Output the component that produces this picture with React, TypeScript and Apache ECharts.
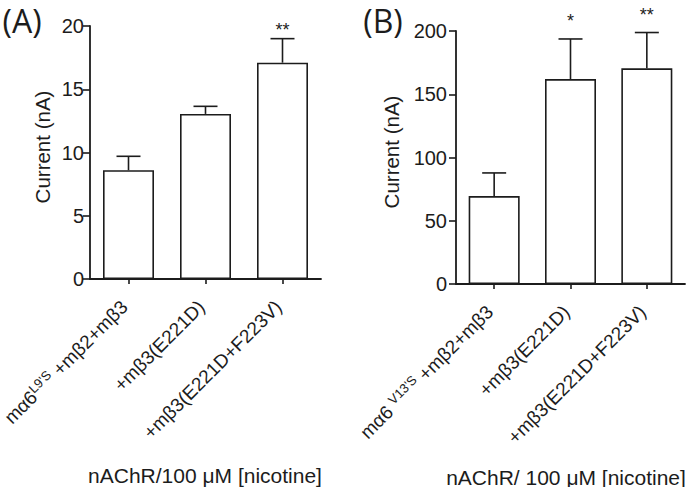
import React, { useEffect, useRef } from "react";
import * as echarts from "echarts";

const categoriesA = [
  "m\u03b16{sup|L9'S} +m\u03b22+m\u03b23",
  "+m\u03b23(E221D)",
  "+m\u03b23(E221D+F223V)",
];
const categoriesB = [
  "m\u03b16 {sup|V13'S} +m\u03b22+m\u03b23",
  "+m\u03b23(E221D)",
  "+m\u03b23(E221D+F223V)",
];
const meanA = [8.6, 13.05, 17.1];
const semA = [1.1, 0.6, 1.9];
const starsA = ["", "", "**"];
const meanB = [69.5, 162, 170.5];
const semB = [18.3, 31.7, 28.3];
const starsB = ["", "*", "**"];
const yMaxA = 20;
const yStepA = 5;
const yMaxB = 200;
const yStepB = 50;
const yTitle = "Current (nA)";
const xTitleA = "nAChR/100 \u03bcM [nicotine]";
const xTitleB = "nAChR/ 100 \u03bcM [nicotine]";

const FONT = "Liberation Sans, Arial, sans-serif";
const INK = "#1c1c1c";

function errRender(stars: string[], starGap: number) {
  return (params: any, api: any) => {
    const i = api.value(0);
    const m = api.value(1);
    const e = api.value(2);
    const base = api.coord([i, m]);
    const top = api.coord([i, m + e]);
    const hw = 12;
    const children: any[] = [
      {
        type: "line",
        shape: { x1: base[0], y1: base[1], x2: top[0], y2: top[1] },
        style: { stroke: INK, lineWidth: 1.6 },
      },
      {
        type: "line",
        shape: { x1: top[0] - hw, y1: top[1], x2: top[0] + hw, y2: top[1] },
        style: { stroke: INK, lineWidth: 1.6 },
      },
    ];
    const s = stars[params.dataIndex];
    if (s) {
      children.push({
        type: "text",
        x: top[0],
        y: top[1] - starGap,
        style: {
          text: s,
          fill: INK,
          fontSize: 18,
          fontFamily: FONT,
          textAlign: "center",
          textVerticalAlign: "middle",
          align: "center",
          verticalAlign: "middle",
        },
      });
    }
    return { type: "group", children };
  };
}

function xAxisCfg(cats: string[], gridIndex: number) {
  return {
    type: "category",
    gridIndex,
    data: cats,
    boundaryGap: true,
    axisLine: { show: true, lineStyle: { color: INK, width: 1.8 } },
    axisTick: { show: true, alignWithLabel: true, length: 5, interval: 0, lineStyle: { color: INK, width: 1.6 } },
    axisLabel: {
      interval: 0,
      rotate: 45,
      align: "right",
      verticalAlign: "top",
      margin: 5,
      padding: [0, 17, 0, 0],
      fontSize: 19,
      lineHeight: 22,
      fontFamily: FONT,
      color: INK,
      rich: {
        sup: { fontSize: 13, lineHeight: 13, verticalAlign: "top", fontFamily: FONT, color: INK },
      },
    },
    splitLine: { show: false },
  };
}

function yAxisCfg(max: number, step: number, gridIndex: number, margin: number) {
  return {
    type: "value",
    gridIndex,
    min: 0,
    max,
    interval: step,
    axisLine: { show: true, lineStyle: { color: INK, width: 1.8 } },
    axisTick: { show: true, length: 7, lineStyle: { color: INK, width: 1.6 } },
    axisLabel: { fontSize: 20, fontFamily: FONT, color: INK, margin },
    splitLine: { show: false },
  };
}

function textEl(text: string, x: number, y: number, size: number, family: string, rotation = 0) {
  return {
    type: "text",
    x,
    y,
    rotation,
    style: {
      text,
      fill: INK,
      fontSize: size,
      fontFamily: family,
      textAlign: "center",
      textVerticalAlign: "middle",
      align: "center",
      verticalAlign: "middle",
    },
  };
}

export default function App() {
  const ref = useRef<HTMLDivElement>(null);
  useEffect(() => {
    if (!ref.current) return;
    const chart = echarts.init(ref.current, undefined, { renderer: "svg" });
    const barStyle = { color: "#ffffff", borderColor: INK, borderWidth: 1.6 };
    chart.setOption({
      animation: false,
      backgroundColor: "#ffffff",
      textStyle: { fontFamily: FONT },
      grid: [
        { left: 90, top: 26, width: 231, height: 253, outerBoundsMode: "none", containLabel: false },
        { left: 456, top: 31, width: 229, height: 253, outerBoundsMode: "none", containLabel: false },
      ],
      xAxis: [xAxisCfg(categoriesA, 0), xAxisCfg(categoriesB, 1)],
      yAxis: [yAxisCfg(yMaxA, yStepA, 0, 6), yAxisCfg(yMaxB, yStepB, 1, 9)],
      series: [
        {
          type: "bar",
          xAxisIndex: 0,
          yAxisIndex: 0,
          data: meanA,
          barWidth: 51,
          itemStyle: barStyle,
          silent: true,
        },
        {
          type: "bar",
          xAxisIndex: 1,
          yAxisIndex: 1,
          data: meanB,
          barWidth: 51,
          itemStyle: barStyle,
          silent: true,
        },
        {
          type: "custom",
          xAxisIndex: 0,
          yAxisIndex: 0,
          data: meanA.map((m, i) => [i, m, semA[i]]),
          encode: { x: 0, y: 1 },
          renderItem: errRender(starsA, 9),
          z: 5,
          silent: true,
        },
        {
          type: "custom",
          xAxisIndex: 1,
          yAxisIndex: 1,
          data: meanB.map((m, i) => [i, m, semB[i]]),
          encode: { x: 0, y: 1 },
          renderItem: errRender(starsB, 18),
          z: 5,
          silent: true,
        },
      ],
      graphic: [
        textEl("(A)", 22, 20, 32, "Open Sans, sans-serif"),
        textEl("(B)", 383, 20, 32, "Open Sans, sans-serif"),
        textEl(yTitle, 42, 147, 20.5, FONT, Math.PI / 2),
        textEl(yTitle, 391, 152, 20.5, FONT, Math.PI / 2),
        textEl(xTitleA, 205, 475, 21, FONT),
        textEl(xTitleB, 566, 477, 21, FONT),
      ],
    });
    return () => chart.dispose();
  }, []);
  return (
    <div
      ref={ref}
      style={{ position: "absolute", left: 0, top: 0, width: 693, height: 487, background: "#fff" }}
    />
  );
}
